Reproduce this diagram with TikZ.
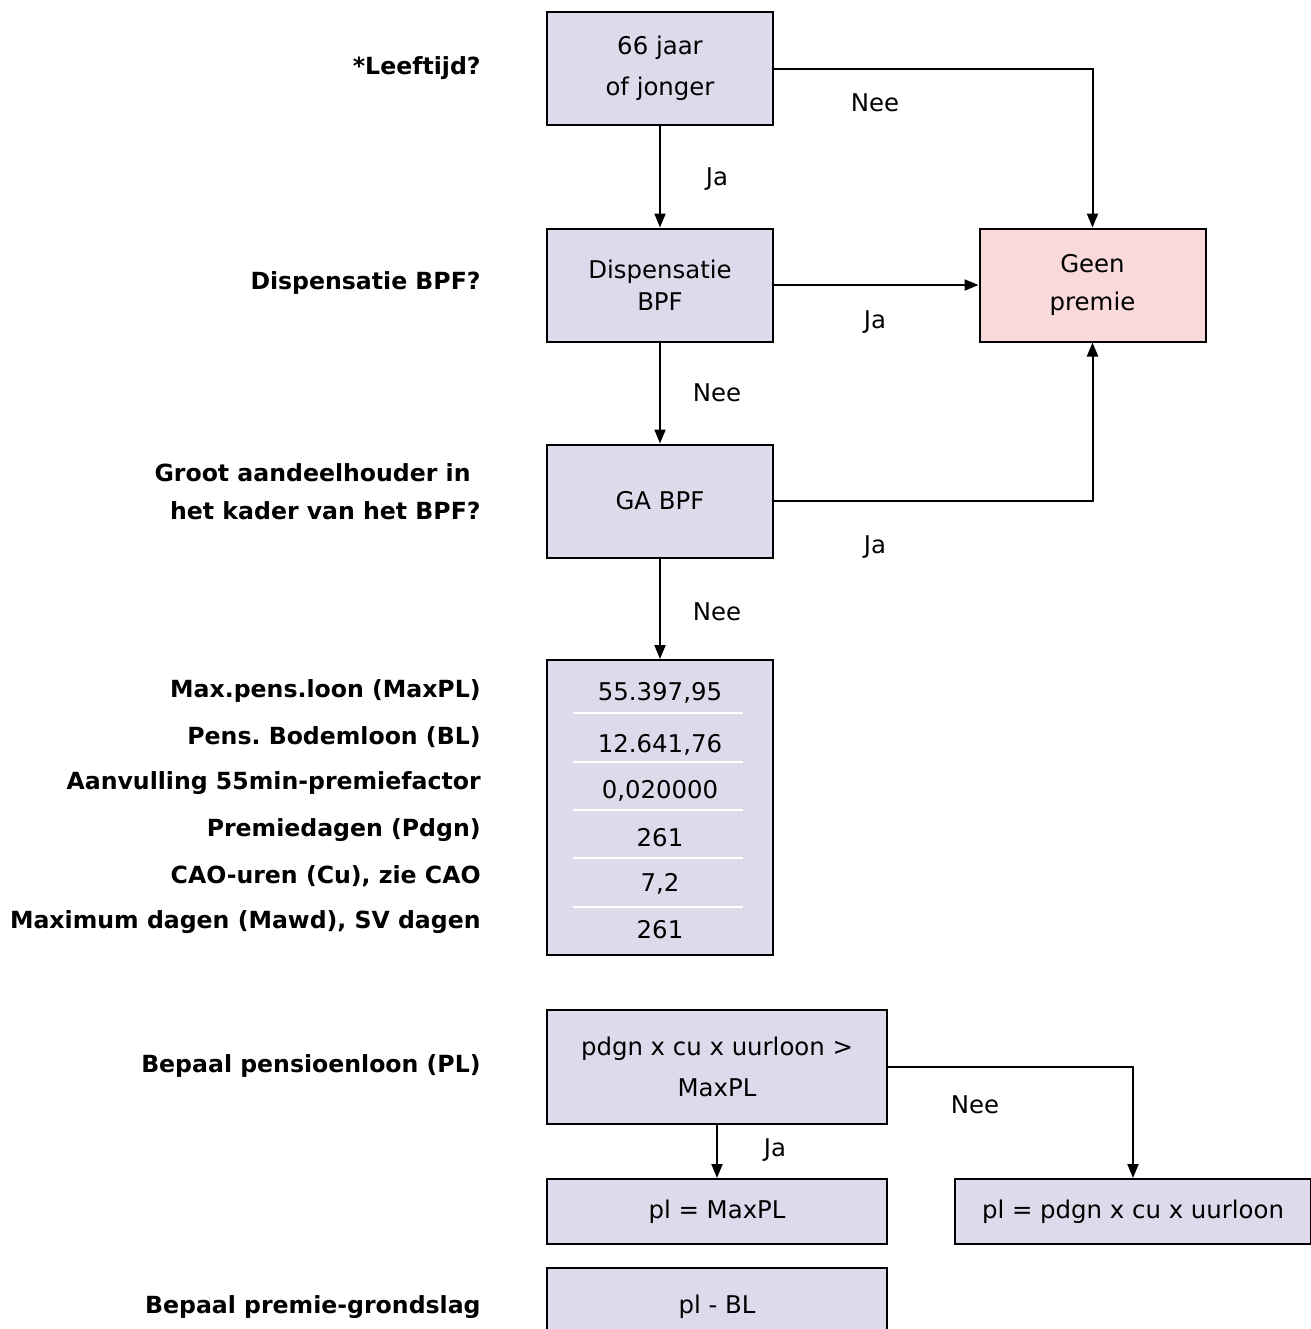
\documentclass[tikz,border=0pt]{standalone}
\usepackage{fontspec}
\setmainfont{DejaVu Sans}
\usetikzlibrary{arrows.meta}
\definecolor{boxfill}{HTML}{DEDAEB}
\definecolor{stopfill}{HTML}{F9D9D9}
\frenchspacing
\begin{document}
\begin{tikzpicture}[x=0.5pt,y=-0.5pt]

\def\fsz{\fontsize{12.2}{20.5}\selectfont}
\def\ssz{\fontsize{11.8}{19}\selectfont}
\def\boxw{113pt}
\def\boxh{56.5pt}

\tikzset{box/.style = {draw, line width=1pt, fill=boxfill, minimum width=\boxw, minimum height=\boxh, inner sep=2pt, align=center, font=\fsz},
         stopbox/.style = {box, fill=stopfill},
         lbl/.style = {font=\fsz, inner sep=0pt},
         side/.style = {font=\ssz\bfseries, anchor=east, align=right, inner sep=0pt},
         arr/.style = {-{Triangle[length=7pt,width=5.5pt]}, line width=1pt},
         sep/.style = {white, line width=1pt}}

\useasboundingbox (0,0) rectangle (1311,1329);

% decision boxes
\node[box] (B1) at (660,68.5) {66 jaar\\of jonger};
\node[box] (B2) at (660,285) {Dispensatie\\[-4.5pt]BPF};
\node[stopbox] (GP) at (1092.5,285) {Geen\\[-1.5pt]premie};
\node[box] (B3) at (660,501) {GA BPF};

% table
\node[box, minimum height=147.5pt] (T) at (660,807.5) {};
\foreach \y in {713,762,810,858,907}
  \draw[sep] (573,\y) -- (743,\y);
\foreach \v/\y [count=\i] in {55.397{,}95/693, 12.641{,}76/745, 0{,}020000/791, 261/838, 7{,}2/884, 261/930}
  \node[lbl] (T\i) at (660,\y) {\v};

% pensioenloon
\node[box, minimum width=170pt, minimum height=57pt] (PL) at (717,1067) {pdgn x cu x uurloon >\\MaxPL};
\node[box, minimum width=170pt, minimum height=32.5pt] (PL1) at (717,1211.5) {pl = MaxPL};
\node[box, minimum width=178pt, minimum height=32.5pt] (PL2) at (1133,1211.5) {pl = pdgn x cu x uurloon};
\node[box, minimum width=170pt, minimum height=39pt] (PG) at (717,1307) {pl - BL};

% side labels
\node[side] (S1) at (481,68) {*Leeftijd?};
\node[side] (S2) at (481,283) {Dispensatie BPF?};
\node[side] (S3) at (481,492) {Groot aandeelhouder in\hspace*{5pt}\\het kader van het BPF?};
\foreach \t/\y [count=\i] in {Max.pens.loon (MaxPL)/691, Pens. Bodemloon (BL)/737, Aanvulling 55min-premiefactor/783, Premiedagen (Pdgn)/830, {CAO-uren (Cu), zie CAO}/876, {Maximum dagen (Mawd), SV dagen}/922}
  \node[side] (V\i) at (481,\y) {\t};
\node[side] (S4) at (481,1066) {Bepaal pensioenloon (PL)};
\node[side] (S5) at (481,1307) {Bepaal premie-grondslag};

% connectors
\draw[arr] (B1.east) -| (GP.north);
\draw[arr] (B1) -- (B2);
\draw[arr] (B2) -- (GP);
\draw[arr] (B2) -- (B3);
\draw[arr] (B3.east) -| (GP.south);
\draw[arr] (B3) -- (T);
\draw[arr] (PL.east) -| (PL2.north);
\draw[arr] (PL) -- (PL1);

% answers
\node[lbl] (A1) at (875,103) {Nee};
\node[lbl] (A2) at (717,179) {Ja};
\node[lbl] (A3) at (875,322) {Ja};
\node[lbl] (A4) at (717,393) {Nee};
\node[lbl] (A5) at (875,547) {Ja};
\node[lbl] (A6) at (717,612) {Nee};
\node[lbl] (A7) at (975,1105) {Nee};
\node[lbl] (A8) at (775,1150) {Ja};

\end{tikzpicture}
\end{document}
